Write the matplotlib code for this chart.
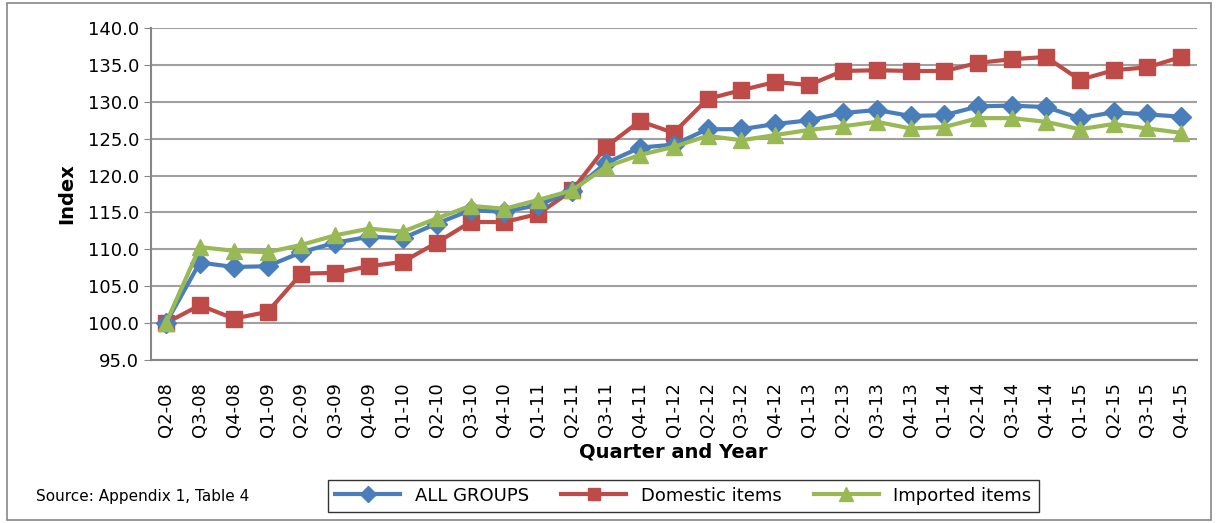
import matplotlib.pyplot as plt
import numpy as np
from matplotlib.patches import Rectangle

quarters = ['Q2-08', 'Q3-08', 'Q4-08', 'Q1-09', 'Q2-09', 'Q3-09', 'Q4-09', 'Q1-10',
            'Q2-10', 'Q3-10', 'Q4-10', 'Q1-11', 'Q2-11', 'Q3-11', 'Q4-11', 'Q1-12',
            'Q2-12', 'Q3-12', 'Q4-12', 'Q1-13', 'Q2-13', 'Q3-13', 'Q4-13', 'Q1-14',
            'Q2-14', 'Q3-14', 'Q4-14', 'Q1-15', 'Q2-15', 'Q3-15', 'Q4-15']

all_groups = [100.0, 108.2, 107.6, 107.7, 109.6, 110.9, 111.7, 111.5, 113.5, 115.3,
              115.1, 116.0, 117.9, 121.7, 123.8, 124.2, 126.3, 126.3, 127.0, 127.5,
              128.5, 128.9, 128.1, 128.2, 129.4, 129.5, 129.3, 127.8, 128.6, 128.3, 128.0]
domestic = [100.0, 102.4, 100.6, 101.5, 106.7, 106.8, 107.7, 108.3, 110.9, 113.7,
            113.7, 114.8, 118.0, 123.9, 127.4, 125.8, 130.4, 131.6, 132.7, 132.3,
            134.2, 134.3, 134.2, 134.2, 135.3, 135.8, 136.1, 133.0, 134.3, 134.7, 136.1]
imported = [100.0, 110.3, 109.8, 109.6, 110.6, 111.9, 112.8, 112.4, 114.2, 115.9,
            115.5, 116.7, 118.0, 121.2, 122.8, 123.9, 125.4, 124.8, 125.5, 126.2,
            126.7, 127.3, 126.4, 126.6, 127.8, 127.8, 127.3, 126.3, 127.0, 126.4, 125.8]

plt.rcParams['font.family'] = ['DejaVu Sans']

fig = plt.figure(figsize=(12.16, 5.23), dpi=100)
ax = fig.add_axes([0.124, 0.312, 0.86, 0.634])

x = np.arange(len(quarters))
ax.plot(x, all_groups, color='#4A7EBB', lw=3, marker='D', ms=10, label='ALL GROUPS', zorder=3)
ax.plot(x, domestic, color='#BE4B48', lw=3, marker='s', ms=11, label='Domestic items', zorder=2)
ax.plot(x, imported, color='#98B954', lw=3, marker='^', ms=12, label='Imported items', zorder=4)

ax.set_ylim(95, 140)
ax.set_yticks(np.arange(95, 141, 5))
ax.set_yticklabels([f'{v:.1f}' for v in np.arange(95, 141, 5)], fontsize=13)
ax.set_xlim(-0.45, len(quarters) - 0.55)
ax.set_xticks(x)
ax.set_xticklabels(quarters, rotation=90, fontsize=13)
ax.tick_params(axis='x', length=0, pad=16)
ax.tick_params(axis='y', length=5, color='#868686')
ax.grid(axis='y', color='#A0A0A0', lw=1.5)
ax.set_axisbelow(True)
for s in ['top', 'right']:
    ax.spines[s].set_visible(False)
ax.spines['left'].set_color('#868686')
ax.spines['bottom'].set_color('#868686')
ax.spines['left'].set_linewidth(1.5)
ax.spines['bottom'].set_linewidth(1.5)

ax.set_ylabel('Index', fontsize=14, fontweight='bold', labelpad=8)
ax.set_xlabel('Quarter and Year', fontsize=14, fontweight='bold', labelpad=4)

leg = fig.legend(loc='center', bbox_to_anchor=(0.562, 0.052), ncol=3, fontsize=13,
                 frameon=True, fancybox=False, edgecolor='black', handlelength=3.6,
                 columnspacing=1.8, borderpad=0.4, markerscale=0.8)
leg.get_frame().set_linewidth(1.0)

fig.text(0.03, 0.05, 'Source: Appendix 1, Table 4', fontsize=11, va='center')

fig.patches.append(Rectangle((0.006, 0.005), 0.99, 0.99, transform=fig.transFigure,
                             fill=False, edgecolor='#868686', lw=1.2))

fig.savefig('out.png', dpi=100)
